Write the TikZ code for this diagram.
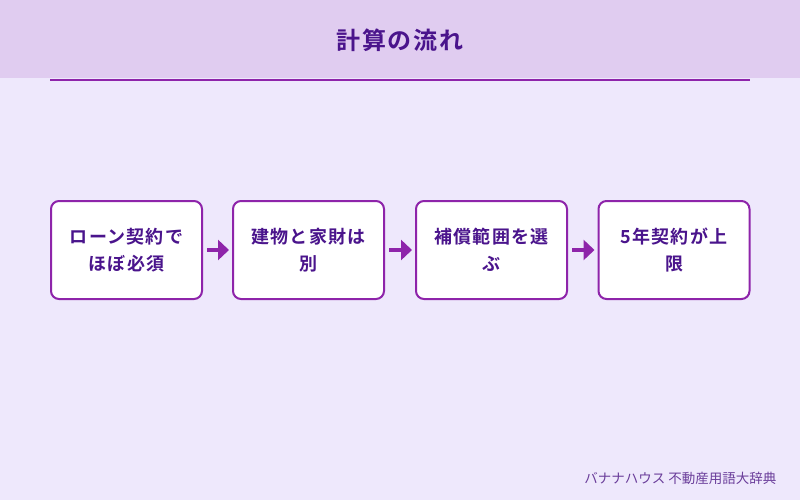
\documentclass[tikz,border=0pt]{standalone}
\usepackage{fontspec}
\newfontfamily\jp{Noto Sans CJK JP}
\newfontfamily\jpb[LetterSpace=7]{Noto Sans CJK JP Bold}
\usetikzlibrary{arrows.meta}
\definecolor{bg}{HTML}{EEE8FC}
\definecolor{band}{HTML}{E0CCF0}
\definecolor{purp}{HTML}{8E24AA}
\definecolor{dark}{HTML}{4A148C}
\definecolor{foot}{HTML}{6A3D9A}
\begin{document}
\begin{tikzpicture}[x=1pt,y=-1pt,
  stepbox/.style={draw=purp,line width=2pt,fill=white,rounded corners=8pt,
    minimum width=151pt,minimum height=98pt,text width=145pt,align=center,
    text=dark,font=\jpb\fontsize{18}{27}\selectfont,inner sep=0pt},
  flow/.style={draw=purp,line width=4pt,-{Triangle[length=11pt,width=20pt]},shorten <=4pt,shorten >=3pt}]
\fill[bg] (0,0) rectangle (800,500);
\useasboundingbox (0,0) rectangle (800,500);
\fill[band] (0,0) rectangle (800,78);
\node[text=dark,font=\jpb\fontsize{24}{28}\selectfont] (title) at (400,40) {計算の流れ};
\coordinate (la) at (50,80.5);
\coordinate (lb) at (750,80.5);
\draw[purp,line width=2pt] (la) -- (lb);
\node[stepbox] (s1) at (126.5,250) {ローン契約で\\ほぼ必須};
\node[stepbox] (s2) at (308.5,250) {建物と家財は\\別};
\node[stepbox] (s3) at (491.5,250) {補償範囲を選\\ぶ};
\node[stepbox] (s4) at (674,250) {5年契約が上\\限};
\draw[flow] (s1) -- (s2);
\draw[flow] (s2) -- (s3);
\draw[flow] (s3) -- (s4);
\node[anchor=east,text=foot,font=\jp\fontsize{13.5}{15}\selectfont] (ft) at (780,478) {バナナハウス 不動産用語大辞典};
\end{tikzpicture}
\end{document}
